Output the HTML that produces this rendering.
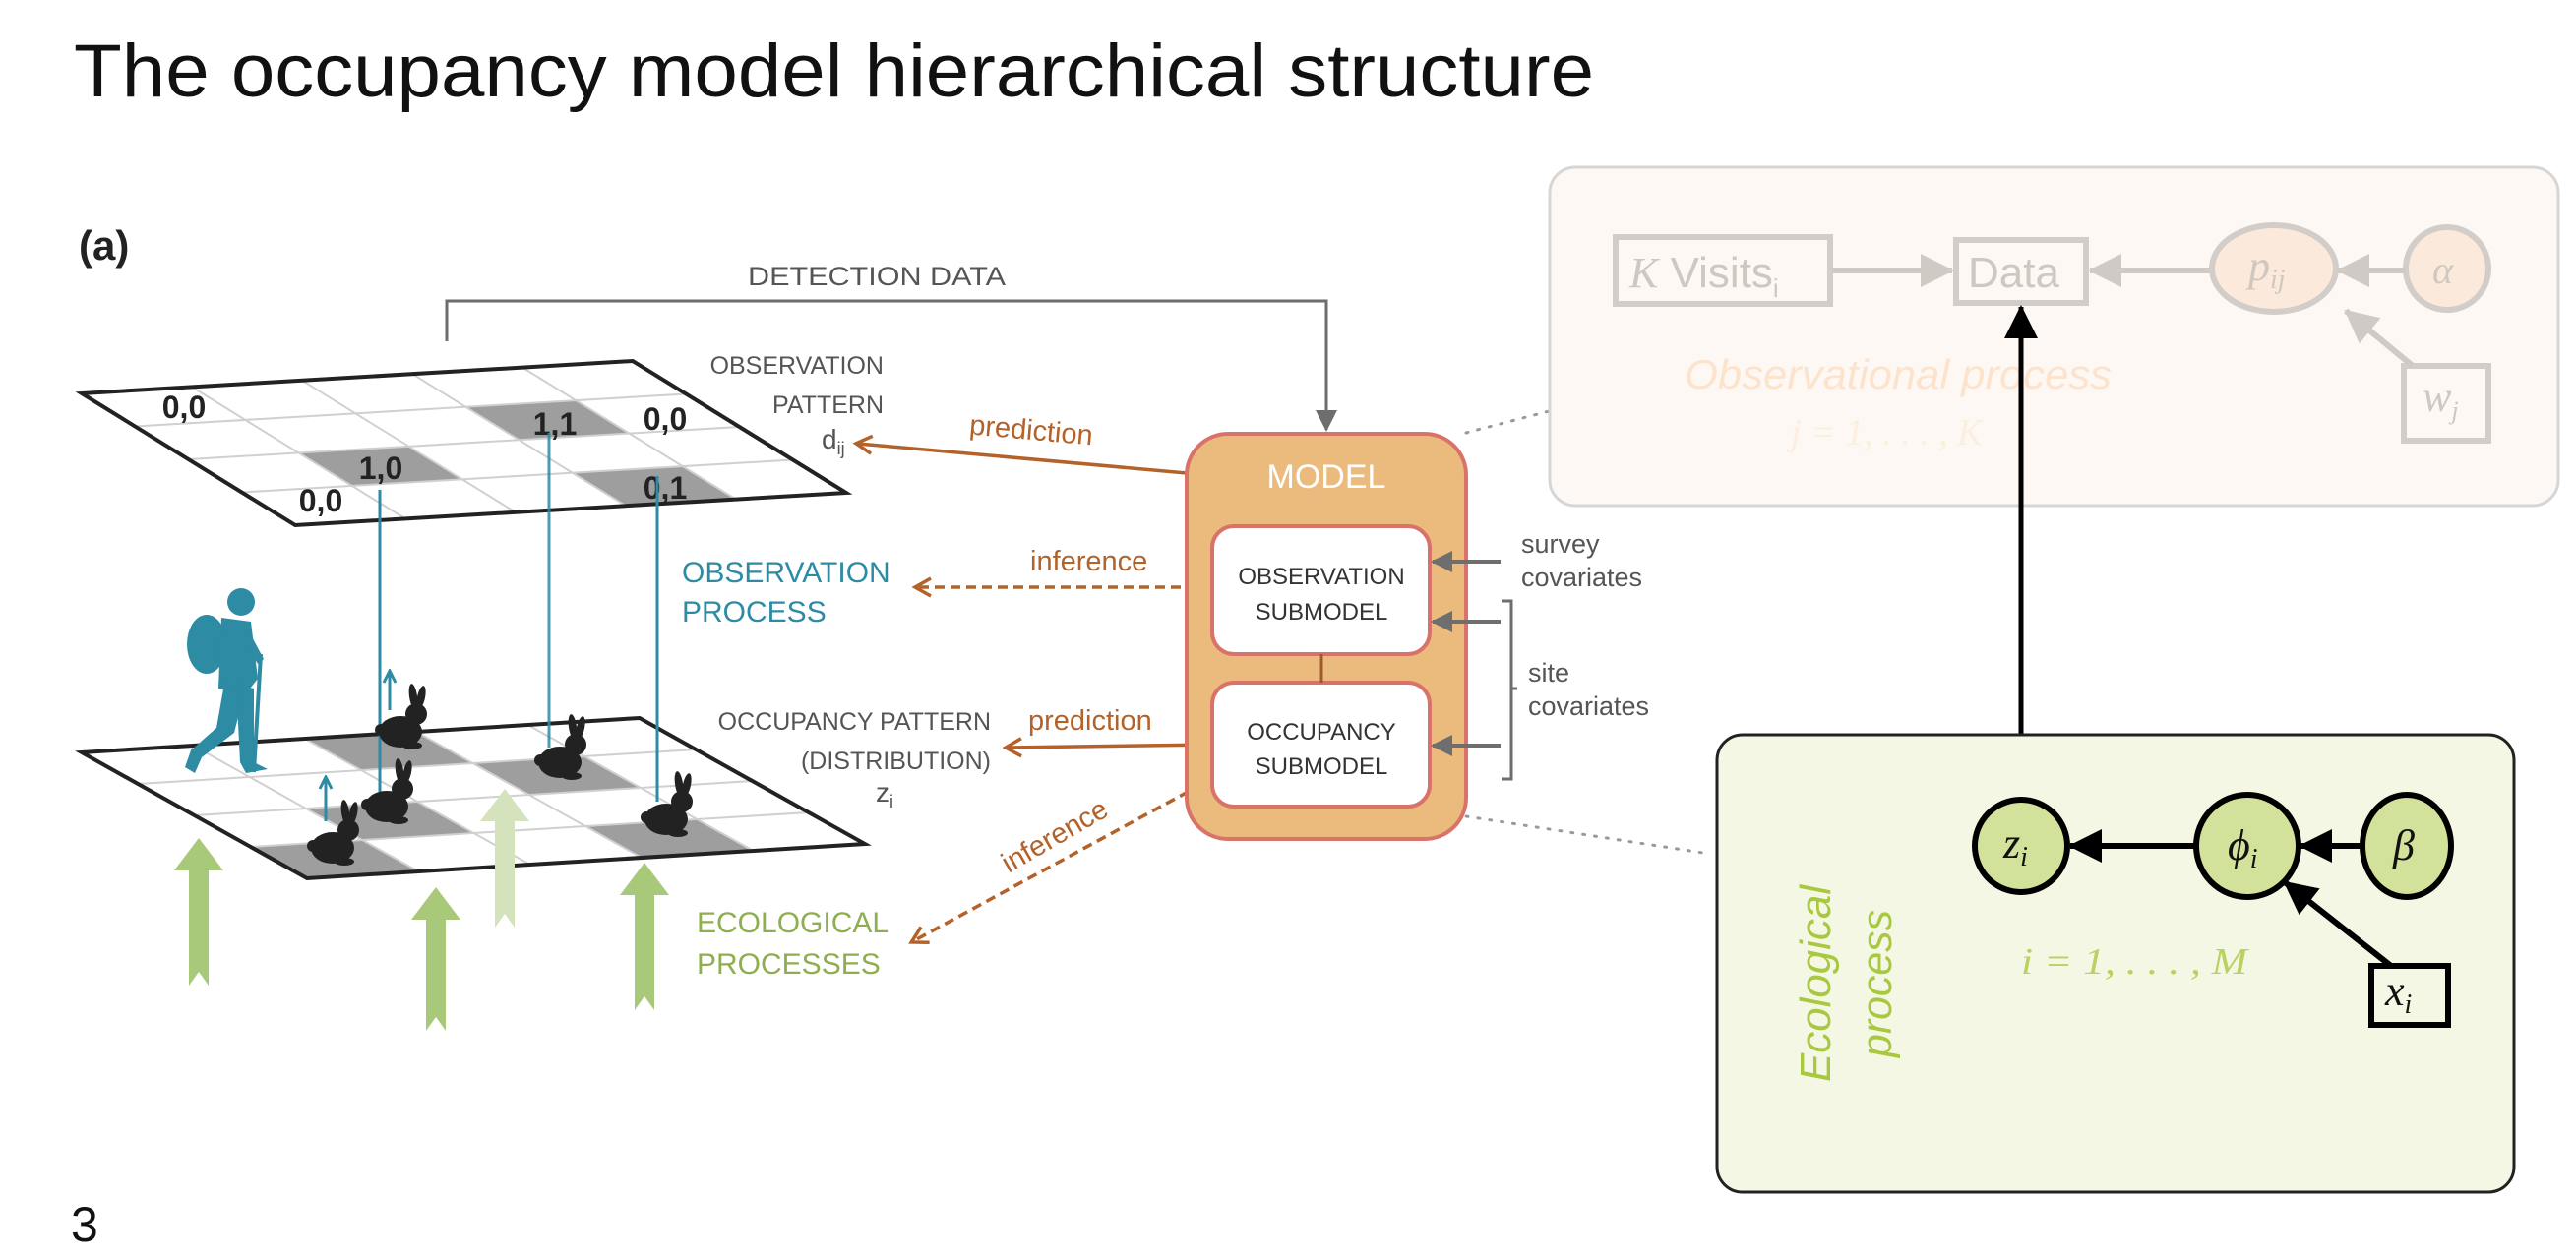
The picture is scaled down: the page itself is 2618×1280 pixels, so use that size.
<!DOCTYPE html>
<html><head><meta charset="utf-8"><style>
html,body{margin:0;padding:0;background:#fff;}
svg{display:block;}
text{font-family:"Liberation Sans",sans-serif;}
.m{font-family:"Liberation Serif",serif;font-style:italic;}
</style></head><body>
<svg width="2618" height="1280" viewBox="0 0 2618 1280" xmlns="http://www.w3.org/2000/svg">
<defs>
<marker id="abo" markerWidth="22" markerHeight="22" refX="16" refY="11" orient="auto" markerUnits="userSpaceOnUse"><path d="M2,2 L18,11 L2,20" fill="none" stroke="#b3622a" stroke-width="3.5"/></marker>
<marker id="ag" markerWidth="22" markerHeight="22" refX="20" refY="11" orient="auto" markerUnits="userSpaceOnUse"><path d="M0,0 L22,11 L0,22 Z" fill="#6e6e6e"/></marker>
<marker id="ak" markerWidth="34" markerHeight="34" refX="32" refY="17" orient="auto" markerUnits="userSpaceOnUse"><path d="M0,0 L34,17 L0,34 Z" fill="#000"/></marker>
<marker id="af" markerWidth="34" markerHeight="34" refX="32" refY="17" orient="auto" markerUnits="userSpaceOnUse"><path d="M0,0 L34,17 L0,34 Z" fill="#cfcac4"/></marker>
<marker id="abl" markerWidth="16" markerHeight="16" refX="14" refY="8" orient="auto" markerUnits="userSpaceOnUse"><path d="M2,2 L14,8 L2,14" fill="none" stroke="#2d8ba3" stroke-width="3"/></marker>
<symbol id="rab" viewBox="-30 -70 60 72" overflow="visible">
<ellipse cx="-4" cy="-16" rx="22" ry="16" fill="#222"/>
<circle cx="12" cy="-34" r="11" fill="#222"/>
<ellipse cx="9" cy="-52" rx="4" ry="13" fill="#222" transform="rotate(-8 9 -52)"/>
<ellipse cx="17" cy="-51" rx="4" ry="12" fill="#222" transform="rotate(12 17 -51)"/>
<ellipse cx="8" cy="-2" rx="10" ry="4" fill="#222"/>
<circle cx="-24" cy="-18" r="6" fill="#222"/>
</symbol>
</defs>

<!-- Title -->
<text x="75" y="98" font-size="76" fill="#111" textLength="1545" lengthAdjust="spacingAndGlyphs">The occupancy model hierarchical structure</text>
<text x="72" y="1262" font-size="50" fill="#111">3</text>
<text x="80" y="264" font-size="42" font-weight="bold" fill="#222">(a)</text>

<!-- Detection data connector -->
<path d="M454,347 L454,306 L1348,306 L1348,437" fill="none" stroke="#6e6e6e" stroke-width="3" marker-end="url(#ag)"/>
<text x="760" y="290" font-size="27" fill="#555" textLength="262" lengthAdjust="spacingAndGlyphs">DETECTION DATA</text>

<!-- Top grid -->
<g transform="matrix(560,-33,217,134,83,400)">
<polygon points="0,0 1,0 1,1 0,1" fill="#fff"/>
<rect x="0.6" y="0.25" width="0.2" height="0.25" fill="#9e9e9e"/>
<rect x="0.2" y="0.5" width="0.2" height="0.25" fill="#9e9e9e"/>
<rect x="0.6" y="0.75" width="0.2" height="0.25" fill="#9e9e9e"/>
<g stroke="#d0d0d0" stroke-width="2" fill="none">
<line x1="0.2" y1="0" x2="0.2" y2="1" vector-effect="non-scaling-stroke"/><line x1="0.4" y1="0" x2="0.4" y2="1" vector-effect="non-scaling-stroke"/>
<line x1="0.6" y1="0" x2="0.6" y2="1" vector-effect="non-scaling-stroke"/><line x1="0.8" y1="0" x2="0.8" y2="1" vector-effect="non-scaling-stroke"/>
<line x1="0" y1="0.25" x2="1" y2="0.25" vector-effect="non-scaling-stroke"/><line x1="0" y1="0.5" x2="1" y2="0.5" vector-effect="non-scaling-stroke"/><line x1="0" y1="0.75" x2="1" y2="0.75" vector-effect="non-scaling-stroke"/>
</g>
<polygon points="0,0 1,0 1,1 0,1" fill="none" stroke="#222" stroke-width="4" vector-effect="non-scaling-stroke"/>
</g>
<g font-size="32" font-weight="bold" fill="#222" text-anchor="middle">
<text x="187" y="425">0,0</text><text x="564" y="442">1,1</text><text x="676" y="437">0,0</text>
<text x="387" y="487">1,0</text><text x="326" y="520">0,0</text><text x="676" y="507">0,1</text>
</g>

<!-- Bottom grid -->
<g transform="matrix(567,-35,229,128,83,765)">
<polygon points="0,0 1,0 1,1 0,1" fill="#fff"/>
<rect x="0.4" y="0" width="0.2" height="0.25" fill="#9e9e9e"/>
<rect x="0.6" y="0.25" width="0.2" height="0.25" fill="#9e9e9e"/>
<rect x="0.2" y="0.5" width="0.2" height="0.25" fill="#9e9e9e"/>
<rect x="0" y="0.75" width="0.2" height="0.25" fill="#9e9e9e"/>
<rect x="0.6" y="0.75" width="0.2" height="0.25" fill="#9e9e9e"/>
<g stroke="#d0d0d0" stroke-width="2" fill="none">
<line x1="0.2" y1="0" x2="0.2" y2="1" vector-effect="non-scaling-stroke"/><line x1="0.4" y1="0" x2="0.4" y2="1" vector-effect="non-scaling-stroke"/>
<line x1="0.6" y1="0" x2="0.6" y2="1" vector-effect="non-scaling-stroke"/><line x1="0.8" y1="0" x2="0.8" y2="1" vector-effect="non-scaling-stroke"/>
<line x1="0" y1="0.25" x2="1" y2="0.25" vector-effect="non-scaling-stroke"/><line x1="0" y1="0.5" x2="1" y2="0.5" vector-effect="non-scaling-stroke"/><line x1="0" y1="0.75" x2="1" y2="0.75" vector-effect="non-scaling-stroke"/>
</g>
<polygon points="0,0 1,0 1,1 0,1" fill="none" stroke="#222" stroke-width="4" vector-effect="non-scaling-stroke"/>
</g>

<!-- Blue lines -->
<line x1="386" y1="498" x2="386" y2="805" stroke="#2d8ba3" stroke-width="3"/>
<line x1="558" y1="440" x2="558" y2="760" stroke="#2d8ba3" stroke-width="3" opacity="0.85"/>
<line x1="668" y1="484" x2="668" y2="815" stroke="#2d8ba3" stroke-width="3"/>
<line x1="396" y1="722" x2="396" y2="682" stroke="#2d8ba3" stroke-width="3" marker-end="url(#abl)"/>
<line x1="331" y1="835" x2="331" y2="790" stroke="#2d8ba3" stroke-width="3" marker-end="url(#abl)"/>

<!-- Rabbits -->
<use href="#rab" x="381" y="690" width="60" height="72"/>
<use href="#rab" x="367" y="766" width="60" height="72"/>
<use href="#rab" x="312" y="808" width="60" height="72"/>
<use href="#rab" x="543" y="721" width="60" height="72"/>
<use href="#rab" x="651" y="779" width="60" height="72"/>

<!-- Hiker -->
<g fill="#2d8ba3">
<circle cx="245" cy="612" r="14"/>
<ellipse cx="210" cy="655" rx="20" ry="30"/>
<path d="M225,628 L255,632 L262,690 L250,705 L222,700 Z"/>
<path d="M228,695 L250,698 L238,745 L205,770 L195,762 L220,740 Z"/>
<path d="M240,695 L258,700 L258,775 L272,782 L250,786 L244,775 Z"/>
<path d="M195,760 L205,770 L198,786 L188,780 Z"/>
<path d="M252,640 L268,670 L262,675 L246,650 Z"/>
</g>
<line x1="265" y1="665" x2="258" y2="785" stroke="#2d8ba3" stroke-width="4"/>

<!-- Green arrows -->
<g>
<path d="M192,1002 L192,885 L177,885 L202,852 L227,885 L212,885 L212,1002 L202,988 Z" fill="#a9c97a"/>
<path d="M433,1048 L433,935 L418,935 L443,902 L468,935 L453,935 L453,1048 L443,1034 Z" fill="#a9c97a"/>
<path d="M503,943 L503,835 L488,835 L513,802 L538,835 L523,835 L523,943 L513,929 Z" fill="#d5e3bd"/>
<path d="M645,1027 L645,910 L630,910 L655,877 L680,910 L665,910 L665,1027 L655,1013 Z" fill="#a9c97a"/>
</g>

<!-- Left labels -->
<g font-size="25" fill="#555" text-anchor="end">
<text x="898" y="380">OBSERVATION</text>
<text x="898" y="420">PATTERN</text>
<text x="1007" y="742">OCCUPANCY PATTERN</text>
<text x="1007" y="782">(DISTRIBUTION)</text>
</g>
<text x="835" y="456" font-size="28" fill="#555" font-family="Liberation Mono,monospace">d<tspan font-size="18" dy="6">ij</tspan></text>
<text x="890" y="815" font-size="28" fill="#555" font-family="Liberation Mono,monospace">z<tspan font-size="18" dy="6">i</tspan></text>
<g font-size="30" fill="#2d8ba3"><text x="693" y="592">OBSERVATION</text><text x="693" y="632">PROCESS</text></g>
<g font-size="30" fill="#8fae4e"><text x="708" y="948">ECOLOGICAL</text><text x="708" y="990">PROCESSES</text></g>

<!-- brown arrows -->
<line x1="1206" y1="481" x2="872" y2="451" stroke="#b3622a" stroke-width="3.5" marker-end="url(#abo)"/>
<text x="985" y="448" font-size="29" fill="#b3622a" transform="rotate(5 1060 440)">prediction</text>
<line x1="1232" y1="597" x2="932" y2="597" stroke="#b3622a" stroke-width="3.5" stroke-dasharray="10,6" marker-end="url(#abo)"/>
<text x="1047" y="580" font-size="29" fill="#b3622a">inference</text>
<line x1="1232" y1="757" x2="1024" y2="760" stroke="#b3622a" stroke-width="3.5" marker-end="url(#abo)"/>
<text x="1045" y="742" font-size="29" fill="#b3622a">prediction</text>
<line x1="1222" y1="797" x2="928" y2="957" stroke="#b3622a" stroke-width="3.5" stroke-dasharray="10,6" marker-end="url(#abo)"/>
<text x="1025" y="888" font-size="29" fill="#b3622a" transform="rotate(-30 1025 888)">inference</text>

<!-- Model box -->
<rect x="1206" y="441" width="284" height="412" rx="42" fill="#ebbb7e" stroke="#d9736a" stroke-width="4"/>
<text x="1348" y="496" font-size="34" fill="#fff" text-anchor="middle">MODEL</text>
<rect x="1232" y="535" width="221" height="130" rx="22" fill="#fff" stroke="#d9736a" stroke-width="4"/>
<rect x="1232" y="694" width="221" height="126" rx="22" fill="#fff" stroke="#d9736a" stroke-width="4"/>
<line x1="1343" y1="665" x2="1343" y2="694" stroke="#a0592a" stroke-width="3"/>
<g font-size="24" fill="#333" text-anchor="middle">
<text x="1343" y="594">OBSERVATION</text><text x="1343" y="630">SUBMODEL</text>
<text x="1343" y="752">OCCUPANCY</text><text x="1343" y="787">SUBMODEL</text>
</g>

<!-- covariates -->
<line x1="1525" y1="571" x2="1456" y2="571" stroke="#6e6e6e" stroke-width="4" marker-end="url(#ag)"/>
<line x1="1525" y1="632" x2="1456" y2="632" stroke="#6e6e6e" stroke-width="4" marker-end="url(#ag)"/>
<line x1="1525" y1="758" x2="1456" y2="758" stroke="#6e6e6e" stroke-width="4" marker-end="url(#ag)"/>
<path d="M1526,611 L1536,611 L1536,792 L1526,792 M1536,700 L1542,700" fill="none" stroke="#6e6e6e" stroke-width="3"/>
<g font-size="27" fill="#555"><text x="1546" y="562">survey</text><text x="1546" y="596">covariates</text>
<text x="1553" y="693">site</text><text x="1553" y="727">covariates</text></g>

<!-- dotted connectors -->
<line x1="1490" y1="440" x2="1720" y2="380" stroke="#999" stroke-width="3" stroke-dasharray="2,10" stroke-linecap="round"/>
<line x1="1490" y1="830" x2="1737" y2="868" stroke="#999" stroke-width="3" stroke-dasharray="2,10" stroke-linecap="round"/>

<!-- Top faded box -->
<rect x="1575" y="170" width="1025" height="344" rx="26" fill="#fdf8f3" stroke="#d6d6d6" stroke-width="3"/>
<g stroke="#d2cdc8" stroke-width="6" fill="none">
<rect x="1642" y="241" width="218" height="68"/>
<rect x="1988" y="244" width="132" height="64"/>
<rect x="2443" y="372" width="86" height="76"/>
</g>
<ellipse cx="2311" cy="273" rx="63" ry="44" fill="#fbeadb" stroke="#d2cdc8" stroke-width="6"/>
<ellipse cx="2487" cy="273" rx="42" ry="42" fill="#fbeadb" stroke="#d2cdc8" stroke-width="6"/>
<g stroke="#cfcac4" stroke-width="6">
<line x1="1862" y1="275" x2="1984" y2="275" marker-end="url(#af)"/>
<line x1="2246" y1="275" x2="2124" y2="275" marker-end="url(#af)"/>
<line x1="2445" y1="275" x2="2376" y2="275" marker-end="url(#af)"/>
<line x1="2452" y1="372" x2="2384" y2="316" marker-end="url(#af)"/>
</g>
<g fill="#cfc8c0" font-size="44">
<text x="1656" y="292"><tspan class="m">K</tspan> Visits<tspan font-size="26" dy="10">i</tspan></text>
<text x="2000" y="292">Data</text>
<text x="2285" y="285" class="m">p<tspan font-size="28" dy="8">ij</tspan></text>
<text x="2472" y="288" class="m" font-size="40">α</text>
<text x="2462" y="418" class="m">w<tspan font-size="26" dy="8">j</tspan></text>
</g>
<text x="1712" y="395" font-style="italic" font-size="42" fill="#fde3cc" textLength="434" lengthAdjust="spacingAndGlyphs">Observational process</text>
<text x="1820" y="452" class="m" font-size="38" fill="#fdeedd">j = 1, . . . , K</text>

<!-- black arrow z -> Data -->
<line x1="2054" y1="812" x2="2054" y2="312" stroke="#000" stroke-width="5" marker-end="url(#ak)"/>

<!-- Green box -->
<rect x="1745" y="747" width="810" height="465" rx="26" fill="#f4f7e4" stroke="#222" stroke-width="3"/>
<circle cx="2054" cy="860" r="47" fill="#d3e29b" stroke="#000" stroke-width="6"/>
<ellipse cx="2284" cy="860" rx="52" ry="52" fill="#d3e29b" stroke="#000" stroke-width="6"/>
<ellipse cx="2446" cy="860" rx="45" ry="52" fill="#d3e29b" stroke="#000" stroke-width="6"/>
<rect x="2410" y="982" width="78" height="60" fill="#f4f7e4" stroke="#000" stroke-width="6"/>
<g stroke="#000" stroke-width="6">
<line x1="2232" y1="860" x2="2104" y2="860" marker-end="url(#ak)"/>
<line x1="2401" y1="860" x2="2338" y2="860" marker-end="url(#ak)"/>
<line x1="2430" y1="982" x2="2322" y2="897" marker-end="url(#ak)"/>
</g>
<g font-size="44" fill="#111">
<text x="2036" y="872" class="m">z<tspan font-size="28" dy="8">i</tspan></text>
<text x="2264" y="874" class="m">ϕ<tspan font-size="28" dy="8">i</tspan></text>
<text x="2432" y="874" class="m">β</text>
<text x="2424" y="1022" class="m">x<tspan font-size="28" dy="8">i</tspan></text>
</g>
<text x="2054" y="990" class="m" font-size="38" fill="#b9d160" textLength="230" lengthAdjust="spacingAndGlyphs">i = 1, . . . , M</text>
<g font-size="44" font-style="italic" fill="#a8c840">
<text transform="translate(1860 1100) rotate(-90)" textLength="200" lengthAdjust="spacingAndGlyphs">Ecological</text>
<text transform="translate(1922 1075) rotate(-90)" textLength="150" lengthAdjust="spacingAndGlyphs">process</text>
</g>
</svg>
</body></html>
